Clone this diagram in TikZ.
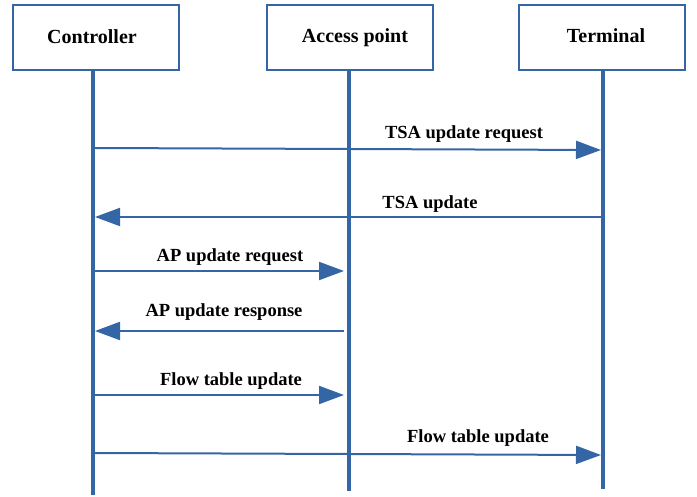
\documentclass[tikz,border=0pt]{standalone}
\usepackage{fontspec}
\setmainfont{Liberation Serif}
\usetikzlibrary{arrows.meta}
\definecolor{seqblue}{RGB}{52,101,164}
\begin{document}
\begin{tikzpicture}[x=1pt,y=-1pt,
  actor/.style={draw=seqblue,line width=2pt,minimum width=166pt,minimum height=65pt,inner sep=0pt,font=\fontsize{20}{22}\selectfont\bfseries},
  life/.style={draw=seqblue,line width=4pt},
  msg/.style={draw=seqblue,line width=2pt,-{Triangle[length=25pt,width=18pt]}},
  lbl/.style={font=\fontsize{18.5}{20}\selectfont\bfseries,inner sep=0pt}]
\useasboundingbox (0,0) rectangle (697,497);
\node[actor] (ctrl) at (96,37.5) {\raisebox{2pt}{Controller\hspace{8pt}}};
\node[actor] (ap) at (350,37.5) {\raisebox{2pt}{\hspace{10pt}Access point}};
\node[actor] (term) at (602,37.5) {\raisebox{3pt}{\hspace{8pt}Terminal}};
\coordinate (ctrlend) at (93,495);
\coordinate (apend) at (349,491);
\coordinate (termend) at (603,489);
\draw[life] (ctrl.south -| ctrlend) -- (ctrlend);
\draw[life] (ap.south -| apend) -- (apend);
\draw[life] (term.south -| termend) -- (termend);
% messages
\coordinate (m1s) at (95,148); \coordinate (m1e) at (601,150);
\coordinate (m2s) at (601,217); \coordinate (m2e) at (95,217);
\coordinate (m3s) at (95,271); \coordinate (m3e) at (344,271);
\coordinate (m4s) at (344,331); \coordinate (m4e) at (95,331);
\coordinate (m5s) at (95,395); \coordinate (m5e) at (344,395);
\coordinate (m6s) at (95,453); \coordinate (m6e) at (601,455);
\draw[msg] (m1s) -- (m1e);
\draw[msg] (m2s) -- (m2e);
\draw[msg] (m3s) -- (m3e);
\draw[msg] (m4s) -- (m4e);
\draw[msg] (m5s) -- (m5e);
\draw[msg] (m6s) -- (m6e);
\node[lbl] (l1) at (464,134) {TSA update request};
\node[lbl] (l2) at (430,204) {TSA update};
\node[lbl] (l3) at (230,257) {AP update request};
\node[lbl] (l4) at (224,312) {AP update response};
\node[lbl] (l5) at (231,381) {Flow table update};
\node[lbl] (l6) at (478,438) {Flow table update};
\end{tikzpicture}
\end{document}
